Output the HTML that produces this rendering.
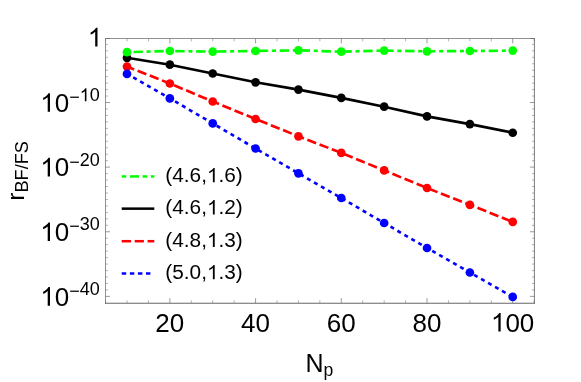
<!DOCTYPE html>
<html><head><meta charset="utf-8"><style>
html,body{margin:0;padding:0;background:#fff;width:581px;height:382px;overflow:hidden}
svg text{font-family:"Liberation Sans",sans-serif}
svg{will-change:transform;opacity:0.999}
</style></head><body>
<svg width="581" height="382" viewBox="0 0 581 382" style="display:block;position:absolute;left:0;top:0">
<rect width="581" height="382" fill="#fff"/>
<path d="M169.86 303.05v-4.9M169.86 38.5v4.9M255.58 303.05v-4.9M255.58 38.5v4.9M341.30 303.05v-4.9M341.30 38.5v4.9M427.02 303.05v-4.9M427.02 38.5v4.9M512.74 303.05v-4.9M512.74 38.5v4.9M105.5 38.50h4.5M534.4 38.50h-4.5M105.5 102.52h4.5M534.4 102.52h-4.5M105.5 167.14h4.5M534.4 167.14h-4.5M105.5 231.76h4.5M534.4 231.76h-4.5M105.5 296.38h4.5M534.4 296.38h-4.5" stroke="#666" stroke-width="0.65" fill="none"/>
<path d="M105.57 303.05v-2.8M105.57 38.5v2.8M127.00 303.05v-2.8M127.00 38.5v2.8M148.43 303.05v-2.8M148.43 38.5v2.8M191.29 303.05v-2.8M191.29 38.5v2.8M212.72 303.05v-2.8M212.72 38.5v2.8M234.15 303.05v-2.8M234.15 38.5v2.8M277.01 303.05v-2.8M277.01 38.5v2.8M298.44 303.05v-2.8M298.44 38.5v2.8M319.87 303.05v-2.8M319.87 38.5v2.8M362.73 303.05v-2.8M362.73 38.5v2.8M384.16 303.05v-2.8M384.16 38.5v2.8M405.59 303.05v-2.8M405.59 38.5v2.8M448.45 303.05v-2.8M448.45 38.5v2.8M469.88 303.05v-2.8M469.88 38.5v2.8M491.31 303.05v-2.8M491.31 38.5v2.8M534.17 303.05v-2.8M534.17 38.5v2.8M105.5 44.36h2.4M534.4 44.36h-2.4M105.5 50.82h2.4M534.4 50.82h-2.4M105.5 57.29h2.4M534.4 57.29h-2.4M105.5 63.75h2.4M534.4 63.75h-2.4M105.5 70.21h2.4M534.4 70.21h-2.4M105.5 76.67h2.4M534.4 76.67h-2.4M105.5 83.13h2.4M534.4 83.13h-2.4M105.5 89.60h2.4M534.4 89.60h-2.4M105.5 96.06h2.4M534.4 96.06h-2.4M105.5 108.98h2.4M534.4 108.98h-2.4M105.5 115.44h2.4M534.4 115.44h-2.4M105.5 121.91h2.4M534.4 121.91h-2.4M105.5 128.37h2.4M534.4 128.37h-2.4M105.5 134.83h2.4M534.4 134.83h-2.4M105.5 141.29h2.4M534.4 141.29h-2.4M105.5 147.75h2.4M534.4 147.75h-2.4M105.5 154.22h2.4M534.4 154.22h-2.4M105.5 160.68h2.4M534.4 160.68h-2.4M105.5 173.60h2.4M534.4 173.60h-2.4M105.5 180.06h2.4M534.4 180.06h-2.4M105.5 186.53h2.4M534.4 186.53h-2.4M105.5 192.99h2.4M534.4 192.99h-2.4M105.5 199.45h2.4M534.4 199.45h-2.4M105.5 205.91h2.4M534.4 205.91h-2.4M105.5 212.37h2.4M534.4 212.37h-2.4M105.5 218.84h2.4M534.4 218.84h-2.4M105.5 225.30h2.4M534.4 225.30h-2.4M105.5 238.22h2.4M534.4 238.22h-2.4M105.5 244.68h2.4M534.4 244.68h-2.4M105.5 251.15h2.4M534.4 251.15h-2.4M105.5 257.61h2.4M534.4 257.61h-2.4M105.5 264.07h2.4M534.4 264.07h-2.4M105.5 270.53h2.4M534.4 270.53h-2.4M105.5 276.99h2.4M534.4 276.99h-2.4M105.5 283.46h2.4M534.4 283.46h-2.4M105.5 289.92h2.4M534.4 289.92h-2.4" stroke="#666" stroke-width="0.5" fill="none"/>
<path d="M105.5 303.55V38.5H534.4" fill="none" stroke="#666" stroke-width="0.72" stroke-linecap="square"/>
<path d="M534.4 38.5V303.55" fill="none" stroke="#666" stroke-width="0.85"/>
<path d="M105.1 303.25H534.85" fill="none" stroke="#666" stroke-width="1.1"/>
<polyline points="127.00,57.80 169.86,64.70 212.72,73.50 255.58,82.30 298.44,89.60 341.30,97.90 384.16,106.70 427.02,116.40 469.88,124.10 512.74,132.75" fill="none" stroke="#000000" stroke-width="2.65"/>
<circle cx="127.00" cy="57.80" r="4.35" fill="#000000"/>
<circle cx="169.86" cy="64.70" r="4.35" fill="#000000"/>
<circle cx="212.72" cy="73.50" r="4.35" fill="#000000"/>
<circle cx="255.58" cy="82.30" r="4.35" fill="#000000"/>
<circle cx="298.44" cy="89.60" r="4.35" fill="#000000"/>
<circle cx="341.30" cy="97.90" r="4.35" fill="#000000"/>
<circle cx="384.16" cy="106.70" r="4.35" fill="#000000"/>
<circle cx="427.02" cy="116.40" r="4.35" fill="#000000"/>
<circle cx="469.88" cy="124.10" r="4.35" fill="#000000"/>
<circle cx="512.74" cy="132.75" r="4.35" fill="#000000"/>
<polyline points="127.00,52.20 169.86,51.00 212.72,51.60 255.58,51.00 298.44,50.30 341.30,51.70 384.16,50.60 427.02,51.30 469.88,51.00 512.74,50.60" fill="none" stroke="#00ff00" stroke-width="2.65" stroke-dasharray="4 3.75 9.4 3.75" stroke-dashoffset="1.3"/>
<circle cx="127.00" cy="52.20" r="4.35" fill="#00ff00"/>
<circle cx="169.86" cy="51.00" r="4.35" fill="#00ff00"/>
<circle cx="212.72" cy="51.60" r="4.35" fill="#00ff00"/>
<circle cx="255.58" cy="51.00" r="4.35" fill="#00ff00"/>
<circle cx="298.44" cy="50.30" r="4.35" fill="#00ff00"/>
<circle cx="341.30" cy="51.70" r="4.35" fill="#00ff00"/>
<circle cx="384.16" cy="50.60" r="4.35" fill="#00ff00"/>
<circle cx="427.02" cy="51.30" r="4.35" fill="#00ff00"/>
<circle cx="469.88" cy="51.00" r="4.35" fill="#00ff00"/>
<circle cx="512.74" cy="50.60" r="4.35" fill="#00ff00"/>
<polyline points="127.00,66.60 169.86,83.50 212.72,101.50 255.58,119.00 298.44,136.30 341.30,152.90 384.16,170.40 427.02,188.00 469.88,204.80 512.74,221.90" fill="none" stroke="#ff0000" stroke-width="2.65" stroke-dasharray="9.4 3.69" stroke-dashoffset="1.7"/>
<circle cx="127.00" cy="66.60" r="4.35" fill="#ff0000"/>
<circle cx="169.86" cy="83.50" r="4.35" fill="#ff0000"/>
<circle cx="212.72" cy="101.50" r="4.35" fill="#ff0000"/>
<circle cx="255.58" cy="119.00" r="4.35" fill="#ff0000"/>
<circle cx="298.44" cy="136.30" r="4.35" fill="#ff0000"/>
<circle cx="341.30" cy="152.90" r="4.35" fill="#ff0000"/>
<circle cx="384.16" cy="170.40" r="4.35" fill="#ff0000"/>
<circle cx="427.02" cy="188.00" r="4.35" fill="#ff0000"/>
<circle cx="469.88" cy="204.80" r="4.35" fill="#ff0000"/>
<circle cx="512.74" cy="221.90" r="4.35" fill="#ff0000"/>
<polyline points="127.00,73.90 169.86,98.40 212.72,123.40 255.58,148.50 298.44,173.30 341.30,198.00 384.16,223.00 427.02,248.00 469.88,272.50 512.74,296.90" fill="none" stroke="#0000ff" stroke-width="2.65" stroke-dasharray="4.0 4.04" stroke-dashoffset="0.9"/>
<circle cx="127.00" cy="73.90" r="4.35" fill="#0000ff"/>
<circle cx="169.86" cy="98.40" r="4.35" fill="#0000ff"/>
<circle cx="212.72" cy="123.40" r="4.35" fill="#0000ff"/>
<circle cx="255.58" cy="148.50" r="4.35" fill="#0000ff"/>
<circle cx="298.44" cy="173.30" r="4.35" fill="#0000ff"/>
<circle cx="341.30" cy="198.00" r="4.35" fill="#0000ff"/>
<circle cx="384.16" cy="223.00" r="4.35" fill="#0000ff"/>
<circle cx="427.02" cy="248.00" r="4.35" fill="#0000ff"/>
<circle cx="469.88" cy="272.50" r="4.35" fill="#0000ff"/>
<circle cx="512.74" cy="296.90" r="4.35" fill="#0000ff"/>
<rect x="121.7" y="175.20" width="4.50" height="2.5" fill="#00ff00"/>
<rect x="129.9" y="175.20" width="9.10" height="2.5" fill="#00ff00"/>
<rect x="142.6" y="175.20" width="4.50" height="2.5" fill="#00ff00"/>
<rect x="150.8" y="175.20" width="3.50" height="2.5" fill="#00ff00"/>
<g transform="translate(165.30,182.20) scale(1.0458,1)"><text x="0.00" y="0" font-size="19.9" fill="#000">(4.6,</text><path transform="translate(39.82,0) scale(0.00972)" d="M763 0H583V-1147Q518 -1085 412.5 -1023T223 -930V-1104Q373 -1174.5 485.5 -1275T645 -1470H763Z" fill="#000"/><text x="50.88" y="0" font-size="19.9" fill="#000">.6)</text></g>
<rect x="121.7" y="207.40" width="32.60" height="2.5" fill="#000000"/>
<g transform="translate(165.30,214.40) scale(1.0458,1)"><text x="0.00" y="0" font-size="19.9" fill="#000">(4.6,</text><path transform="translate(39.82,0) scale(0.00972)" d="M763 0H583V-1147Q518 -1085 412.5 -1023T223 -930V-1104Q373 -1174.5 485.5 -1275T645 -1470H763Z" fill="#000"/><text x="50.88" y="0" font-size="19.9" fill="#000">.2)</text></g>
<rect x="121.7" y="239.95" width="9.40" height="2.5" fill="#ff0000"/>
<rect x="134.7" y="239.95" width="9.20" height="2.5" fill="#ff0000"/>
<rect x="147.6" y="239.95" width="6.70" height="2.5" fill="#ff0000"/>
<g transform="translate(165.30,246.95) scale(1.0458,1)"><text x="0.00" y="0" font-size="19.9" fill="#000">(4.8,</text><path transform="translate(39.82,0) scale(0.00972)" d="M763 0H583V-1147Q518 -1085 412.5 -1023T223 -930V-1104Q373 -1174.5 485.5 -1275T645 -1470H763Z" fill="#000"/><text x="50.88" y="0" font-size="19.9" fill="#000">.3)</text></g>
<rect x="121.7" y="272.25" width="4.50" height="2.5" fill="#0000ff"/>
<rect x="129.9" y="272.25" width="4.40" height="2.5" fill="#0000ff"/>
<rect x="137.9" y="272.25" width="4.50" height="2.5" fill="#0000ff"/>
<rect x="146.0" y="272.25" width="4.40" height="2.5" fill="#0000ff"/>
<g transform="translate(165.30,279.25) scale(1.0458,1)"><text x="0.00" y="0" font-size="19.9" fill="#000">(5.0,</text><path transform="translate(39.82,0) scale(0.00972)" d="M763 0H583V-1147Q518 -1085 412.5 -1023T223 -930V-1104Q373 -1174.5 485.5 -1275T645 -1470H763Z" fill="#000"/><text x="50.88" y="0" font-size="19.9" fill="#000">.3)</text></g>
<g transform="translate(155.30,331.60) scale(1.0,1)"><text x="0.00" y="0" font-size="26" fill="#000">20</text></g>
<g transform="translate(241.02,331.60) scale(1.0,1)"><text x="0.00" y="0" font-size="26" fill="#000">40</text></g>
<g transform="translate(326.74,331.60) scale(1.0,1)"><text x="0.00" y="0" font-size="26" fill="#000">60</text></g>
<g transform="translate(412.46,331.60) scale(1.0,1)"><text x="0.00" y="0" font-size="26" fill="#000">80</text></g>
<g transform="translate(490.96,331.60) scale(1.0,1)"><path transform="translate(0.00,0) scale(0.01270)" d="M763 0H583V-1147Q518 -1085 412.5 -1023T223 -930V-1104Q373 -1174.5 485.5 -1275T645 -1470H763Z" fill="#000"/><text x="14.46" y="0" font-size="26" fill="#000">00</text></g>
<g transform="translate(87.80,46.40) scale(1.0,1)"><path transform="translate(0.00,0) scale(0.01270)" d="M763 0H583V-1147Q518 -1085 412.5 -1023T223 -930V-1104Q373 -1174.5 485.5 -1275T645 -1470H763Z" fill="#000"/></g>
<g transform="translate(40.30,111.82) scale(1.0,1)"><path transform="translate(0.00,0) scale(0.01270)" d="M763 0H583V-1147Q518 -1085 412.5 -1023T223 -930V-1104Q373 -1174.5 485.5 -1275T645 -1470H763Z" fill="#000"/><text x="14.46" y="0" font-size="26" fill="#000">0</text></g>
<g transform="translate(69.22,103.22) scale(1.0,1)"><text x="0.00" y="0" font-size="18" fill="#000">−</text></g>
<g transform="translate(79.73,101.22) scale(1.0,1)"><path transform="translate(0.00,0) scale(0.00879)" d="M763 0H583V-1147Q518 -1085 412.5 -1023T223 -930V-1104Q373 -1174.5 485.5 -1275T645 -1470H763Z" fill="#000"/><text x="10.01" y="0" font-size="18" fill="#000">0</text></g>
<g transform="translate(40.30,176.44) scale(1.0,1)"><path transform="translate(0.00,0) scale(0.01270)" d="M763 0H583V-1147Q518 -1085 412.5 -1023T223 -930V-1104Q373 -1174.5 485.5 -1275T645 -1470H763Z" fill="#000"/><text x="14.46" y="0" font-size="26" fill="#000">0</text></g>
<g transform="translate(69.22,167.84) scale(1.0,1)"><text x="0.00" y="0" font-size="18" fill="#000">−</text></g>
<g transform="translate(79.73,165.84) scale(1.0,1)"><text x="0.00" y="0" font-size="18" fill="#000">20</text></g>
<g transform="translate(40.30,241.06) scale(1.0,1)"><path transform="translate(0.00,0) scale(0.01270)" d="M763 0H583V-1147Q518 -1085 412.5 -1023T223 -930V-1104Q373 -1174.5 485.5 -1275T645 -1470H763Z" fill="#000"/><text x="14.46" y="0" font-size="26" fill="#000">0</text></g>
<g transform="translate(69.22,232.46) scale(1.0,1)"><text x="0.00" y="0" font-size="18" fill="#000">−</text></g>
<g transform="translate(79.73,230.46) scale(1.0,1)"><text x="0.00" y="0" font-size="18" fill="#000">30</text></g>
<g transform="translate(40.30,305.68) scale(1.0,1)"><path transform="translate(0.00,0) scale(0.01270)" d="M763 0H583V-1147Q518 -1085 412.5 -1023T223 -930V-1104Q373 -1174.5 485.5 -1275T645 -1470H763Z" fill="#000"/><text x="14.46" y="0" font-size="26" fill="#000">0</text></g>
<g transform="translate(69.22,297.08) scale(1.0,1)"><text x="0.00" y="0" font-size="18" fill="#000">−</text></g>
<g transform="translate(79.73,295.08) scale(1.0,1)"><text x="0.00" y="0" font-size="18" fill="#000">40</text></g>
<text x="305.5" y="371.6" font-size="25" fill="#000">N<tspan dy="4.2" font-size="17.6">p</tspan></text>
<text transform="translate(23.6,200.8) rotate(-90)" font-size="24.8" fill="#000">r<tspan dy="4.0" font-size="18.2">BF/FS</tspan></text>
</svg>
</body></html>
